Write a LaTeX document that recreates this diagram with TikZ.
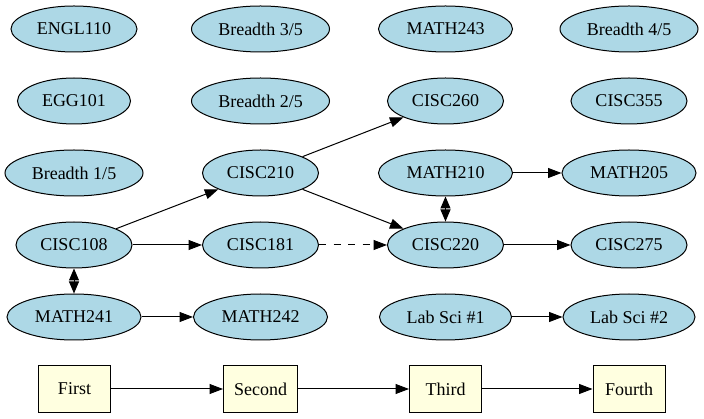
\documentclass[tikz,border=0pt]{standalone}
\usepackage{fontspec}
\setmainfont{Liberation Serif}
\usetikzlibrary{shapes.geometric,arrows.meta}
\definecolor{nodeblue}{HTML}{ADD8E6}
\definecolor{boxyellow}{HTML}{FFFFE0}
\tikzset{
  course/.style={ellipse, draw=black, fill=nodeblue, line width=1pt, inner sep=0pt,
    minimum height=46pt, minimum width=#1, font=\fontsize{18}{20}\selectfont},
  course/.default=116pt,
  term/.style={rectangle, draw=black, fill=boxyellow, line width=1pt, minimum width=72pt,
    minimum height=47pt, inner xsep=10.5pt, font=\fontsize{18}{20}\selectfont},
  edge/.style={line width=1pt, -{Triangle[length=13.5pt,width=10pt]}},
  dashededge/.style={edge, dash pattern=on 7pt off 7.5pt},
  bi/.style={line width=1pt, {Triangle[length=12pt,width=10pt]}-{Triangle[length=12pt,width=10pt]}}
}
\begin{document}
\begin{tikzpicture}[x=1pt,y=-1pt]
\useasboundingbox (0,0) rectangle (704,419);
% row 1
\node[course=126pt] (engl110) at (74,29) {ENGL110};
\node[course=138pt] (br3) at (260.5,29) {Breadth 3/5};
\node[course=134pt] (math243) at (445.5,29) {MATH243};
\node[course=138pt] (br4) at (629,29) {Breadth 4/5};
% row 2
\node[course=113pt] (egg101) at (74,101) {EGG101};
\node[course=138pt] (br2) at (260.5,101) {Breadth 2/5};
\node[course=116pt] (cisc260) at (445.5,101) {CISC260};
\node[course=116pt] (cisc355) at (629,101) {CISC355};
% row 3
\node[course=138pt] (br1) at (74,173) {Breadth 1/5};
\node[course=116pt] (cisc210) at (260.5,173) {CISC210};
\node[course=134pt] (math210) at (445.5,173) {MATH210};
\node[course=134pt] (math205) at (629,173) {MATH205};
% row 4
\node[course=116pt] (cisc108) at (74,245) {CISC108};
\node[course=116pt] (cisc181) at (260.5,245) {CISC181};
\node[course=116pt] (cisc220) at (445.5,245) {CISC220};
\node[course=116pt] (cisc275) at (629,245) {CISC275};
% row 5
\node[course=134pt] (math241) at (74,317) {MATH241};
\node[course=134pt] (math242) at (260.5,317) {MATH242};
\node[course=132pt] (lab1) at (445.5,317) {Lab Sci \#1};
\node[course=132pt] (lab2) at (629,317) {Lab Sci \#2};
% row 6
\node[term] (first) at (74.5,389) {First};
\node[term] (second) at (260.5,389) {Second};
\node[term] (third) at (445.5,389) {Third};
\node[term] (fourth) at (629,389) {Fourth};
% edges
\draw[edge] (cisc108) -- (cisc210);
\draw[edge] (cisc108) -- (cisc181);
\draw[bi] (cisc108) -- (math241);
\draw[edge] (math241) -- (math242);
\draw[edge] (cisc210) -- (cisc260);
\draw[edge] (cisc210) -- (cisc220);
\draw[dashededge] (cisc181) -- (cisc220);
\draw[edge] (math210) -- (math205);
\draw[bi] (math210) -- (cisc220);
\draw[edge] (cisc220) -- (cisc275);
\draw[edge] (lab1) -- (lab2);
\draw[edge] (first) -- (second);
\draw[edge] (second) -- (third);
\draw[edge] (third) -- (fourth);
\end{tikzpicture}
\end{document}
